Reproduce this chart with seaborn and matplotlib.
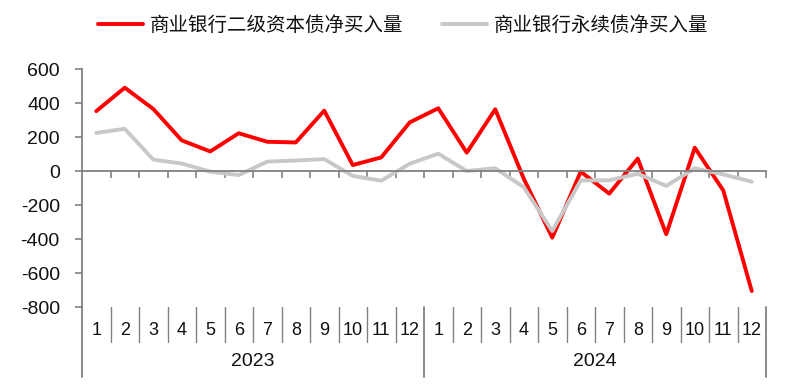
import numpy as np
import pandas as pd
import matplotlib
matplotlib.use("Agg")
import matplotlib.pyplot as plt
from matplotlib import font_manager
import seaborn as sns

# 数据（亿元，按月）
years = ['2023', '2024']
months = [str(m) for m in range(1, 13)]
series_names = ['商业银行二级资本债净买入量', '商业银行永续债净买入量']
tier2_net_buy = [352, 490, 365, 180, 115, 222, 172, 168, 355, 35, 80, 286,
                 369, 108, 363, -45, -392, -4, -133, 73, -372, 137, -114, -706]
perpetual_net_buy = [224, 248, 67, 44, -4, -24, 55, 62, 70, -29, -57, 43,
                     102, 0, 16, -95, -353, -55, -55, -16, -88, 16, -20, -63]
colors = ['#FF0000', '#C8C8C8']

n = len(years) * len(months)
df = pd.DataFrame({
    'pos': list(range(n)) * 2,
    'value': tier2_net_buy + perpetual_net_buy,
    'series': [series_names[0]] * n + [series_names[1]] * n,
})

sns.set_theme(style='white')
installed = {f.name for f in font_manager.fontManager.ttflist}
num_font = 'Liberation Sans' if 'Liberation Sans' in installed else 'DejaVu Sans'
narrow_font = 'Liberation Sans Narrow' if 'Liberation Sans Narrow' in installed else num_font
plt.rcParams['font.family'] = ['Noto Sans CJK SC', 'DejaVu Sans']

fig = plt.figure(figsize=(8, 3.84), dpi=100)
ax = fig.add_axes([82 / 800, 77 / 384, 684 / 800, 238 / 384])

sns.lineplot(data=df, x='pos', y='value', hue='series', palette=colors,
             linewidth=2.8, sort=False, ax=ax)

axis_col = '#808080'
ax.set_xlim(-0.5, n - 0.5)
ax.set_ylim(-800, 600)
ax.set_yticks(np.arange(-800, 601, 200))
ax.set_yticklabels([str(v) for v in range(-800, 601, 200)],
                   family=num_font, fontsize=14, color='#111111')
ax.set_xticks(np.arange(0.5, n, 1))
ax.set_xticklabels([])
ax.set_xlabel('')
ax.set_ylabel('')

for s in ['top', 'right']:
    ax.spines[s].set_visible(False)
ax.spines['bottom'].set_position(('data', 0))
for s in ['left', 'bottom']:
    ax.spines[s].set_color(axis_col)
    ax.spines[s].set_linewidth(1.3)
ax.tick_params(axis='both', direction='out', length=5, width=1.2, color=axis_col)
ax.tick_params(axis='y', pad=11, left=True)
ax.tick_params(axis='x', bottom=True)

# 下方分类轴：月份 + 年份
trans = ax.get_xaxis_transform()
for i in range(n):
    ax.text(i, -0.097, months[i % 12], transform=trans, ha='center', va='center',
            family=narrow_font, fontsize=13, color='#111111')
for k in range(1, n):
    if k % 12 == 0:
        continue
    ax.plot([k - 0.5, k - 0.5], [0, -0.147], transform=trans, color=axis_col,
            lw=1.0, clip_on=False)
for k in range(len(years) + 1):
    x = k * 12 - 0.5
    ax.plot([x, x], [0, -0.294], transform=trans, color=axis_col, lw=1.3,
            clip_on=False)
for k, y in enumerate(years):
    ax.text(k * 12 + 5.5, -0.231, y, transform=trans, ha='center', va='center',
            family=num_font, fontsize=14, color='#111111')

handles, labels = ax.get_legend_handles_labels()
ax.get_legend().remove()
fig.legend(handles, labels, loc='center', bbox_to_anchor=(0.504, 0.935), ncol=2,
           frameon=False, fontsize=14, handlelength=2.3, handletextpad=0.35,
           columnspacing=2.0, labelcolor='#111111')

fig.savefig('out.png', dpi=100)
